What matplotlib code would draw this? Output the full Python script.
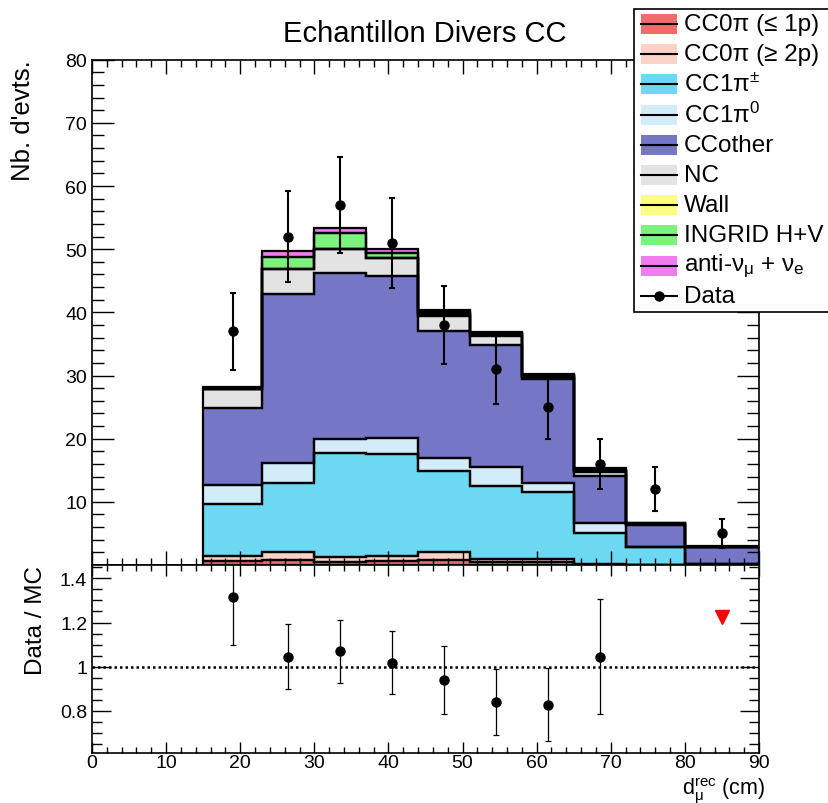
import numpy as np
import matplotlib
matplotlib.use('Agg')
import matplotlib.pyplot as plt
from matplotlib.patches import Rectangle
from matplotlib.lines import Line2D
from matplotlib.ticker import MultipleLocator, FixedLocator, FuncFormatter

plt.rcParams['font.family'] = ['Liberation Sans', 'DejaVu Sans']
plt.rcParams['mathtext.fontset'] = 'custom'
plt.rcParams['mathtext.rm'] = 'Liberation Sans'
plt.rcParams['mathtext.it'] = 'Liberation Sans:italic'
plt.rcParams['mathtext.bf'] = 'Liberation Sans:bold'

# ---------------- data ----------------
bin_edges = [15, 23, 30, 37, 44, 51, 58, 65, 72, 80, 90]
cc0pi_le1p = [0.7, 0.8, 0.5, 0.6, 0.8, 0.4, 0.5, 0.05, 0.0, 0.0]
cc0pi_ge2p = [0.8, 1.2, 0.7, 0.9, 1.2, 0.6, 0.5, 0.05, 0.0, 0.0]
cc1pi_pm = [8.15, 11.0, 16.5, 16.1, 12.9, 11.5, 10.5, 4.9, 2.8, 0.1]
cc1pi_0 = [3.05, 3.2, 2.2, 2.5, 2.1, 3.0, 1.5, 1.6, 0.0, 0.0]
cc_other = [12.1, 26.7, 26.4, 25.6, 20.1, 19.3, 16.4, 7.5, 3.6, 2.7]
nc = [3.0, 3.9, 3.7, 2.9, 2.4, 1.5, 0.4, 0.6, 0.1, 0.05]
wall = [0.0, 0.0, 0.0, 0.0, 0.3, 0.2, 0.15, 0.2, 0.05, 0.03]
ingrid = [0.05, 2.0, 2.5, 0.75, 0.3, 0.2, 0.15, 0.2, 0.05, 0.03]
antinu = [0.3, 0.9, 0.8, 0.75, 0.3, 0.2, 0.1, 0.2, 0.05, 0.03]
data_counts = [37, 52, 57, 51, 38, 31, 25, 16, 12, 5]

overflow_x = [85]
overflow_y = [1.225]

labels = ['CC0π (≤ 1p)', 'CC0π (≥ 2p)', 'CC1π$^{\\pm}$', 'CC1π$^{0}$', 'CCother',
          'NC', 'Wall', 'INGRID H+V',
          'anti-ν$_{\\mathregular{μ}}$ + ν$_{\\mathregular{e}}$']
colors = ['#f26a6a', '#fbd3c6', '#6cd8f2', '#d3ecfa', '#7676c6',
          '#e3e3e3', '#ffff80', '#7cf27c', '#f07cf0']
components = [cc0pi_le1p, cc0pi_ge2p, cc1pi_pm, cc1pi_0, cc_other, nc, wall, ingrid, antinu]

title = 'Echantillon Divers CC'
ylabel_main = "Nb. d'evts."
ylabel_ratio = 'Data / MC'
xlabel = '$\\mathregular{d}_{\\mathregular{μ}}^{\\mathregular{rec}}$ (cm)'

# ---------------- figure ----------------
W, H = 829, 804
fig = plt.figure(figsize=(W / 100, H / 100), dpi=100)

def fx(px):
    return px / W

def fy(py):
    return 1 - py / H

L, R = 92, 759
T_main, B_main, B_ratio = 60.7, 566, 754
ax = fig.add_axes([fx(L), fy(B_main), fx(R) - fx(L), fy(T_main) - fy(B_main)])
axr = fig.add_axes([fx(L), fy(B_ratio), fx(R) - fx(L), fy(B_main) - fy(B_ratio)])

edges = np.array(bin_edges, dtype=float)
centers = 0.5 * (edges[:-1] + edges[1:])
bottom = np.zeros(len(centers))
for vals, col in zip(components, colors):
    v = np.array(vals, dtype=float)
    ax.stairs(bottom + v, edges, baseline=bottom.copy(), fill=True,
              facecolor=col, edgecolor='none', zorder=1)
    ax.stairs(bottom + v, edges, baseline=bottom.copy(), fill=False,
              color='black', lw=1.6, zorder=2)
    bottom = bottom + v
total = bottom

data = np.array(data_counts, dtype=float)
ax.errorbar(centers, data, yerr=np.sqrt(data), fmt='o', color='black',
            markersize=6.5, lw=1.5, capsize=2, capthick=1.5, zorder=5)

ax.set_xlim(0, 90)
ax.set_ylim(0, 80)
ax.xaxis.set_major_locator(MultipleLocator(10))
ax.xaxis.set_minor_locator(MultipleLocator(2))
ax.yaxis.set_major_locator(MultipleLocator(10))
ax.yaxis.set_minor_locator(MultipleLocator(2))
ax.yaxis.set_major_formatter(FuncFormatter(lambda v, p: '' if v == 0 else '%g' % v))
ax.tick_params(axis='x', which='both', labelbottom=False)
ax.tick_params(which='both', direction='in', top=True, right=True, width=1.0,
               labelsize=14, zorder=6)
ax.tick_params(axis='y', which='major', length=16, pad=3.5)
ax.tick_params(axis='y', which='minor', length=8.5)
ax.tick_params(axis='x', which='major', length=10)
ax.tick_params(axis='x', which='minor', length=5)
for s in ax.spines.values():
    s.set_linewidth(1.2)
    s.set_zorder(7)

# ---------------- ratio ----------------
ratio = data / total
rerr = np.sqrt(data) / total
ylo, yhi = 0.61, 1.46
show = ratio < yhi
axr.errorbar(centers[show], ratio[show], yerr=rerr[show], fmt='o', color='black',
             markersize=6.5, lw=0.9, capsize=2, capthick=0.9, zorder=5)
axr.plot(overflow_x, overflow_y, marker='v', color='red', markersize=10,
         linestyle='none', zorder=5)
axr.axhline(1.0, color='black', lw=1.8, ls=(0, (1, 1.2)), zorder=4)
axr.set_xlim(0, 90)
axr.set_ylim(ylo, yhi)
axr.xaxis.set_major_locator(MultipleLocator(10))
axr.xaxis.set_minor_locator(MultipleLocator(2))
axr.yaxis.set_major_locator(FixedLocator([0.8, 1.0, 1.2, 1.4]))
axr.yaxis.set_minor_locator(MultipleLocator(0.05))
axr.yaxis.set_major_formatter(FuncFormatter(lambda v, p: '%g' % round(v, 2)))
axr.tick_params(which='both', direction='in', top=True, right=True, width=1.0,
                labelsize=14)
axr.tick_params(axis='y', which='major', length=14, pad=3.5)
axr.tick_params(axis='y', which='minor', length=7)
axr.tick_params(axis='x', which='major', length=8, pad=1)
axr.tick_params(axis='x', which='minor', length=4.5)
for s in axr.spines.values():
    s.set_linewidth(1.2)

# ---------------- texts ----------------
ov = fig.add_axes([0, 0, 1, 1], facecolor='none')
ov.set_xlim(0, W)
ov.set_ylim(H, 0)
ov.axis('off')

ov.text(425, 34, title, ha='center', va='center', fontsize=21)
ov.text(23, 60, ylabel_main, rotation=90, ha='center', va='top', fontsize=18.5)
ov.text(36, 566, ylabel_ratio, rotation=90, ha='center', va='top', fontsize=17.5)
ov.text(765, 794, xlabel, ha='right', va='baseline', fontsize=15.5)

# ---------------- legend ----------------
ov.add_patch(Rectangle((634, 10), 220, 303, facecolor='white', edgecolor='black',
                       lw=1.2, zorder=10))
y0, dy = 25, 30.2
for i, (lab, col) in enumerate(zip(labels, colors)):
    yc = y0 + i * dy
    ov.add_patch(Rectangle((641, yc - 10), 36, 20, facecolor=col, edgecolor='none', zorder=11))
    ov.add_line(Line2D([641, 677], [yc, yc], color='black', lw=1.5, zorder=12))
    ov.text(684, yc, lab, ha='left', va='center', fontsize=17.5, zorder=12)
yc = y0 + len(labels) * dy
ov.add_line(Line2D([641, 677], [yc, yc], color='black', lw=1.5, zorder=12))
ov.plot([659], [yc], marker='o', color='black', markersize=6.5, zorder=12)
ov.text(684, yc, 'Data', ha='left', va='center', fontsize=17.5, zorder=12)

fig.savefig('out.png', dpi=100)
